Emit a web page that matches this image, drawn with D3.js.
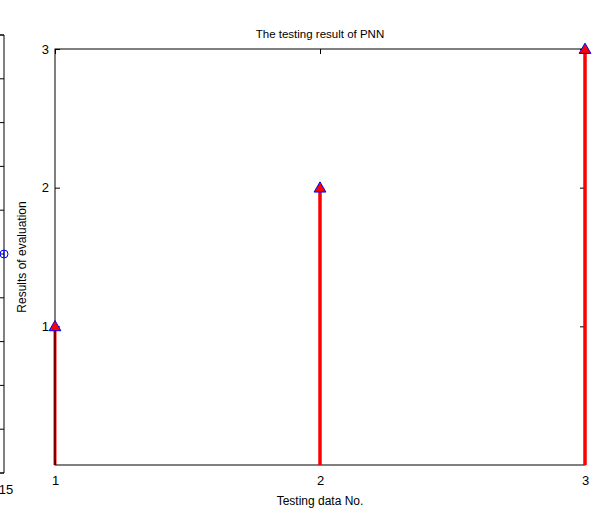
<!DOCTYPE html>
<html>
<head>
<meta charset="utf-8">
<script src="https://cdn.jsdelivr.net/npm/d3@7"></script>
<style>
  body { margin: 0; background: #fff; }
  text { font-family: "Liberation Sans", Arial, sans-serif; font-size: 12px; fill: #000; }
</style>
</head>
<body>
<svg id="chart" width="593" height="513"></svg>
<script>
// testing samples and PNN output
const sampleNo = [1, 2, 3];
const evalResult = [1, 2, 3];
const xTicks = [1, 2, 3];
const yTicks = [1, 2, 3];

// neighbouring subplot that is cut off at the left edge
const prevTicksY = [0, 1, 2, 3, 4, 5, 6, 7, 8, 9, 10];
const prevPoint = { x: 15, y: 5 };
const prevXTicks = [15];

const svg = d3.select("#chart");
const margin = { top: 49, right: 8, bottom: 48, left: 55 };
const width = 593 - margin.left - margin.right;
const height = 513 - margin.top - margin.bottom;

const x = d3.scaleLinear().domain([1, 3]).range([0, width]);
const y = d3.scaleLinear().domain([0, 3]).range([height, 0]);

const g = svg.append("g")
    .attr("transform", "translate(" + margin.left + "," + margin.top + ")");

// --- the cut off subplot on the left
const pg = svg.append("g").attr("transform", "translate(4,35)");
const py = d3.scaleLinear().domain([0, 10]).range([438, 0]);
const px = d3.scaleLinear().domain([-200, 15]).range([-860, 0]);
pg.append("line").attr("x1", 0).attr("x2", 0).attr("y1", 0).attr("y2", 438)
    .attr("stroke", "#000");
pg.append("line").attr("x1", -10).attr("x2", 0).attr("y1", 438).attr("y2", 438)
    .attr("stroke", "#000");
pg.append("line").attr("x1", -10).attr("x2", 0).attr("y1", 0).attr("y2", 0)
    .attr("stroke", "#000");
pg.selectAll(".pt").data(prevTicksY).enter().append("line")
    .attr("x1", -5).attr("x2", 0)
    .attr("y1", d => py(d)).attr("y2", d => py(d))
    .attr("stroke", "#000");
pg.selectAll(".pxt").data(prevXTicks).enter().append("text")
    .attr("x", d => px(d) + 2).attr("y", 459)
    .attr("text-anchor", "middle").style("font-size", "13px")
    .text(d => d);
pg.append("circle")
    .attr("cx", px(prevPoint.x)).attr("cy", py(prevPoint.y)).attr("r", 4)
    .attr("fill", "none").attr("stroke", "#0000ff");
pg.append("line")
    .attr("x1", px(prevPoint.x)).attr("x2", px(prevPoint.x))
    .attr("y1", py(prevPoint.y) - 4).attr("y2", py(prevPoint.y) + 4)
    .attr("stroke", "#0000ff");

const tickLen = 5;
const pts = sampleNo.map((d, i) => ({ x: d, v: evalResult[i] }));

// stems (drawn below the axes box, as matlab does)
g.selectAll(".stem").data(pts).enter().append("line")
    .attr("class", "stem")
    .attr("x1", d => x(d.x)).attr("x2", d => x(d.x))
    .attr("y1", y(0)).attr("y2", d => y(d.v))
    .attr("stroke", "#ff0000").attr("stroke-width", 3);

// --- main axes box
g.append("rect").attr("width", width).attr("height", height)
    .attr("fill", "none").attr("stroke", "#000");

g.append("g").attr("transform", "translate(0," + height + ")")
    .call(d3.axisBottom(x).tickValues(xTicks).tickFormat(d3.format("d"))
        .tickSizeInner(-tickLen).tickSizeOuter(0).tickPadding(11))
    .call(a => a.select(".domain").remove());
g.append("g")
    .call(d3.axisTop(x).tickValues(xTicks).tickFormat("")
        .tickSizeInner(-tickLen).tickSizeOuter(0))
    .call(a => a.select(".domain").remove());
g.append("g")
    .call(d3.axisLeft(y).tickValues(yTicks).tickFormat(d3.format("d"))
        .tickSizeInner(-tickLen).tickSizeOuter(0).tickPadding(6))
    .call(a => a.select(".domain").remove());
g.append("g").attr("transform", "translate(" + width + ",0)")
    .call(d3.axisRight(y).tickValues(yTicks).tickFormat("")
        .tickSizeInner(-tickLen).tickSizeOuter(0))
    .call(a => a.select(".domain").remove());
g.selectAll(".tick text").style("font-size", "13px").style("font-family", "Liberation Sans, Arial, sans-serif");

// red stems on the inside sit over the frame
g.selectAll(".stemTop").data(pts.filter(d => d.x !== 1)).enter().append("line")
    .attr("x1", d => x(d.x)).attr("x2", d => x(d.x))
    .attr("y1", y(0)).attr("y2", d => y(d.v))
    .attr("stroke", "#ff0000").attr("stroke-width", 3);

// triangle markers
const tri = d3.symbol().type(d3.symbolTriangle).size(60);
g.selectAll(".mk").data(pts).enter().append("path")
    .attr("class", "mk")
    .attr("transform", d => "translate(" + x(d.x) + "," + (y(d.v) + 1) + ")")
    .attr("d", tri)
    .attr("fill", "#ff0000").attr("stroke", "#0000ff").attr("stroke-width", 1);

// labels
svg.append("text").attr("x", margin.left + width / 2).attr("y", 38)
    .attr("text-anchor", "middle").style("font-size", "11.5px")
    .text("The testing result of PNN");
svg.append("text").attr("x", margin.left + width / 2).attr("y", 505)
    .attr("text-anchor", "middle").text("Testing data No.");
svg.append("text")
    .attr("transform", "translate(26," + (margin.top + height / 2) + ") rotate(-90)")
    .attr("text-anchor", "middle").text("Results of evaluation");
</script>
</body>
</html>
